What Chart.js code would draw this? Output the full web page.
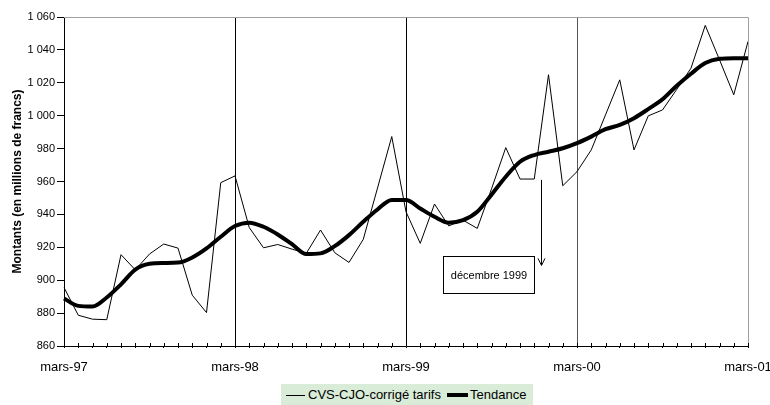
<!DOCTYPE html>
<html lang="fr">
<head>
    <meta charset="UTF-8">
    <title>Montants CVS-CJO</title>
    <style>
        body {
            margin: 0;
            padding: 0;
            background: #fff;
            font-family: Arial, "Liberation Sans", sans-serif;
        }
        #wrap {
            position: relative;
            width: 770px;
            height: 405px;
        }
        #legend {
            position: absolute;
            left: 281px;
            top: 384px;
            width: 252px;
            height: 21px;
            background-color: #d9ecd8;
            font-size: 13px;
            color: #000;
            white-space: nowrap;
        }
        #legend span {
            position: absolute;
        }
        #legend .ln {
            background: #000;
        }
        #legend .txt {
            top: 3px;
        }
    </style>
    <script src="https://cdn.jsdelivr.net/npm/chart.js"></script>
</head>
<body>
    <div id="wrap">
        <canvas id="chart" width="770" height="405"></canvas>
        <div id="legend">
            <span class="ln" style="left:5px;top:11px;width:19px;height:1px"></span>
            <span class="txt" style="left:27px">CVS-CJO-corrigé tarifs</span>
            <span class="ln" style="left:166px;top:9px;width:21px;height:4px"></span>
            <span class="txt" style="left:189px">Tendance</span>
        </div>
    </div>
    <script>
        // mois de mars-97 à mars-01
        const moisNoms = ['janv', 'févr', 'mars', 'avr', 'mai', 'juin', 'juil', 'août', 'sept', 'oct', 'nov', 'déc'];
        const mois = [];
        for (let i = 0; i < 49; i++) {
            const m = (2 + i) % 12;
            const an = 97 + Math.floor((2 + i) / 12);
            mois.push(moisNoms[m] + '-' + String(an % 100).padStart(2, '0'));
        }
        const moisAffiches = ['mars-97', 'mars-98', 'mars-99', 'mars-00', 'mars-01'];

        const cvsCjo = [895.6, 878.7, 876.3, 876, 915.5, 906.3, 915.9, 922, 919.5, 890.9,
                        880.3, 959.3, 963.4, 932, 919.7, 921.7, 918.9, 916.3, 930.5, 916.7,
                        910.8, 924.8, 956, 987.3, 941.6, 922.4, 946.3, 933, 936.5, 931.5,
                        955.5, 980.6, 961.5, 961.5, 1024.9, 957.4, 966, 979.2, 1000.5, 1021.8,
                        979.2, 999.9, 1003.5, 1016, 1028.9, 1054.9, 1034, 1012.7, 1045.1];

        const tendance = [888.9, 884.4, 884, 889.5, 897.5, 906.5, 910, 910.5, 910.7, 913.8,
                          919.3, 926.4, 932.9, 935, 932.5, 927.8, 921.9, 915.9, 916.3, 920.7,
                          927.4, 935.5, 943, 948.8, 948.8, 943.6, 938.6, 935, 936.5, 941.6,
                          952, 962.9, 972, 976.1, 978.1, 980.2, 983.3, 987.3, 991.8, 994.4,
                          998.5, 1004, 1010, 1018.2, 1025.5, 1032, 1034.6, 1035, 1035];

        // annotation "décembre 1999" (en unités des axes)
        const noteTexte = 'décembre 1999';
        const noteBoite = { x0: 26.6, x1: 33.0, y0: 914.7, y1: 892.3 };
        const noteFleche = { x: 33.45, yHaut: 961, yBas: 909 };

        const cadrePlugin = {
            id: 'cadre',
            afterDatasetsDraw(chart) {
                const { ctx, chartArea: a, scales } = chart;
                const x = scales.x, y = scales.y;
                ctx.save();
                // bords haut et droite en gris
                ctx.strokeStyle = '#a0a0a0';
                ctx.lineWidth = 1;
                ctx.beginPath();
                ctx.moveTo(a.left, a.top + 0.5);
                ctx.lineTo(a.right + 0.5, a.top + 0.5);
                ctx.lineTo(a.right + 0.5, a.bottom);
                ctx.stroke();

                // graduations mensuelles (partie au-dessus de l'axe)
                ctx.strokeStyle = '#000';
                ctx.beginPath();
                for (let i = 1; i < mois.length; i++) {
                    const px = Math.round(x.getPixelForValue(i)) + 0.5;
                    ctx.moveTo(px, a.bottom - 3);
                    ctx.lineTo(px, a.bottom);
                }
                ctx.stroke();

                // boite de note
                const bx0 = Math.round(x.getPixelForValue(noteBoite.x0)) + 0.5;
                const bx1 = Math.round(x.getPixelForValue(noteBoite.x1)) + 0.5;
                const by0 = Math.round(y.getPixelForValue(noteBoite.y0)) + 0.5;
                const by1 = Math.round(y.getPixelForValue(noteBoite.y1)) + 0.5;
                ctx.fillStyle = '#fff';
                ctx.fillRect(bx0, by0, bx1 - bx0, by1 - by0);
                ctx.strokeRect(bx0, by0, bx1 - bx0, by1 - by0);
                ctx.fillStyle = '#000';
                ctx.font = '11px Arial, "Liberation Sans", sans-serif';
                ctx.textAlign = 'center';
                ctx.textBaseline = 'middle';
                ctx.fillText(noteTexte, (bx0 + bx1) / 2, (by0 + by1) / 2 + 1);

                // flèche
                const fx = Math.round(x.getPixelForValue(noteFleche.x)) + 0.5;
                const fy0 = y.getPixelForValue(noteFleche.yHaut);
                const fy1 = y.getPixelForValue(noteFleche.yBas);
                ctx.beginPath();
                ctx.moveTo(fx, fy0);
                ctx.lineTo(fx, fy1);
                ctx.moveTo(fx - 3.5, fy1 - 7);
                ctx.lineTo(fx, fy1);
                ctx.lineTo(fx + 3.5, fy1 - 7);
                ctx.stroke();
                ctx.restore();
            }
        };

        const couleurRepere = c => {
            if (c.index === 12 || c.index === 24) return '#000';
            if (c.index === 36) return '#555';
            return 'rgba(0,0,0,0)';
        };

        const ctx = document.getElementById('chart').getContext('2d');
        new Chart(ctx, {
            type: 'line',
            data: {
                labels: mois,
                datasets: [
                    {
                        label: 'CVS-CJO-corrigé tarifs',
                        data: cvsCjo,
                        borderColor: '#000',
                        borderWidth: 1,
                        pointRadius: 0,
                        tension: 0
                    },
                    {
                        label: 'Tendance',
                        data: tendance,
                        borderColor: '#000',
                        borderWidth: 4,
                        pointRadius: 0,
                        cubicInterpolationMode: 'monotone'
                    }
                ]
            },
            options: {
                responsive: false,
                animation: false,
                layout: {
                    padding: { left: 0, right: 0, top: 17, bottom: 29 }
                },
                plugins: {
                    legend: { display: false },
                    tooltip: { enabled: false }
                },
                scales: {
                    x: {
                        offset: false,
                        border: { display: true, color: '#000', width: 1 },
                        grid: {
                            drawOnChartArea: true,
                            color: couleurRepere,
                            tickColor: '#000',
                            tickLength: 2,
                            lineWidth: 1
                        },
                        ticks: {
                            autoSkip: false,
                            maxRotation: 0,
                            padding: 12,
                            color: '#000',
                            font: { family: 'Arial, "Liberation Sans", sans-serif', size: 13 },
                            callback: function (v, i) {
                                const l = mois[i];
                                return moisAffiches.includes(l) ? l : '';
                            }
                        },
                        afterFit: s => { s.height = 30; s.paddingRight = 22; }
                    },
                    y: {
                        min: 860,
                        max: 1060,
                        border: { display: true, color: '#000', width: 1 },
                        grid: {
                            drawOnChartArea: false,
                            tickColor: '#000',
                            tickLength: 7
                        },
                        ticks: {
                            stepSize: 20,
                            padding: 2,
                            color: '#000',
                            font: { family: 'Arial, "Liberation Sans", sans-serif', size: 11 },
                            callback: v => v >= 1000 ? '1 ' + String(v).slice(1) : String(v)
                        },
                        title: {
                            display: true,
                            text: 'Montants (en millions de francs)',
                            color: '#000',
                            font: { family: 'Arial, "Liberation Sans", sans-serif', size: 12, weight: 'bold' },
                            padding: { top: 10, bottom: 4 }
                        },
                        afterFit: s => { s.width = 64; }
                    }
                }
            },
            plugins: [cadrePlugin]
        });
    </script>
</body>
</html>
